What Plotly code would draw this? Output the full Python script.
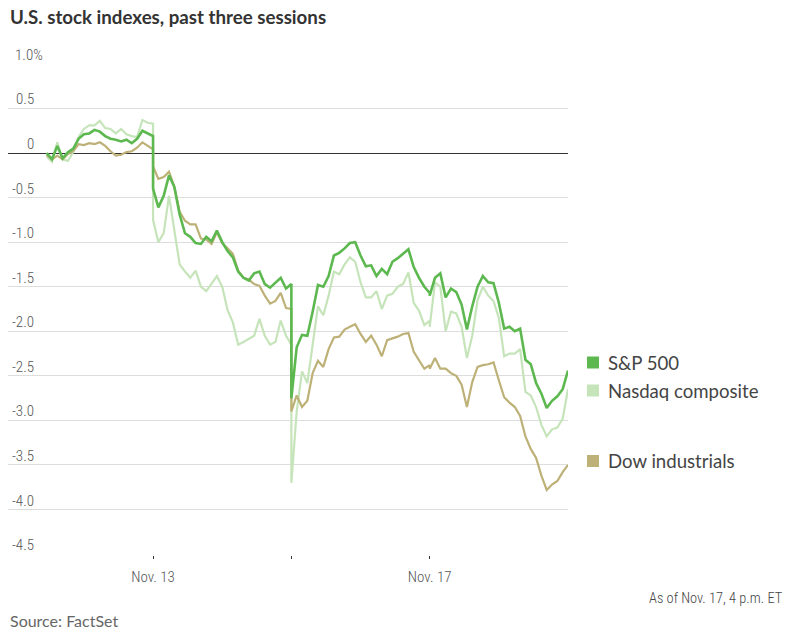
import plotly.graph_objects as go

# trading minutes, 0 = Nov. 13 open; each session 390 min; session boundaries repeated (close / next open)
minutes = (list(range(-300, 1, 15)) + list(range(0, 391, 15))
           + list(range(390, 781, 15)) + list(range(780, 1171, 15)))

sp500 = [0.00, -0.07, 0.08, -0.06, 0.01, 0.05, 0.16, 0.21, 0.22, 0.26, 0.24, 0.19, 0.16, 0.15, 0.13, 0.15, 0.11, 0.16, 0.25, 0.22, 0.19,
         -0.40, -0.61, -0.48, -0.25, -0.38, -0.69, -0.90, -0.94, -1.01, -1.02, -0.94, -0.99, -0.87, -1.00, -1.10, -1.17, -1.33, -1.40, -1.43, -1.35, -1.33, -1.47, -1.51, -1.45, -1.40, -1.52, -1.47,
         -2.75, -2.18, -2.04, -2.05, -1.78, -1.48, -1.50, -1.38, -1.15, -1.12, -1.07, -1.01, -1.00, -1.15, -1.27, -1.26, -1.38, -1.30, -1.36, -1.22, -1.18, -1.13, -1.08, -1.28, -1.40, -1.50, -1.57,
         -1.60, -1.40, -1.35, -1.62, -1.52, -1.56, -1.70, -1.98, -1.72, -1.50, -1.38, -1.45, -1.46, -1.68, -1.97, -1.95, -2.00, -1.97, -2.32, -2.37, -2.58, -2.70, -2.86, -2.78, -2.73, -2.65, -2.44]

nasdaq = [-0.04, -0.10, 0.12, -0.07, -0.09, 0.01, 0.18, 0.27, 0.31, 0.31, 0.36, 0.28, 0.27, 0.22, 0.27, 0.21, 0.19, 0.18, 0.37, 0.34, 0.33,
          -0.75, -1.00, -0.90, -0.48, -0.85, -1.25, -1.33, -1.40, -1.32, -1.50, -1.55, -1.47, -1.38, -1.50, -1.76, -1.90, -2.15, -2.12, -2.08, -2.05, -1.86, -2.05, -2.15, -2.12, -1.88, -2.05, -2.15,
          -3.70, -2.90, -2.45, -2.58, -2.15, -1.72, -1.82, -1.60, -1.33, -1.36, -1.25, -1.17, -1.22, -1.45, -1.62, -1.62, -1.55, -1.75, -1.60, -1.58, -1.50, -1.47, -1.34, -1.68, -1.77, -1.93, -1.88,
          -1.95, -1.45, -1.50, -2.00, -1.78, -1.80, -1.95, -2.30, -2.05, -1.65, -1.50, -1.60, -1.66, -1.85, -2.28, -2.25, -2.25, -2.20, -2.68, -2.72, -2.85, -3.05, -3.18, -3.10, -3.08, -2.98, -2.65]

dow = [-0.02, -0.07, -0.03, -0.07, -0.01, 0.02, 0.10, 0.09, 0.11, 0.10, 0.12, 0.08, 0.02, -0.03, -0.02, 0.01, 0.02, 0.06, 0.12, 0.08, 0.04,
       -0.15, -0.29, -0.27, -0.21, -0.38, -0.66, -0.76, -0.80, -0.80, -0.96, -0.97, -1.02, -0.89, -1.01, -1.07, -1.13, -1.32, -1.40, -1.42, -1.47, -1.49, -1.60, -1.69, -1.66, -1.57, -1.74, -1.75,
       -2.90, -2.72, -2.85, -2.78, -2.47, -2.33, -2.40, -2.20, -2.07, -2.06, -1.98, -1.95, -1.92, -2.03, -2.12, -2.05, -2.15, -2.28, -2.10, -2.08, -2.06, -2.03, -2.02, -2.23, -2.32, -2.42, -2.38,
       -2.42, -2.30, -2.42, -2.42, -2.47, -2.50, -2.60, -2.85, -2.57, -2.40, -2.38, -2.37, -2.35, -2.55, -2.74, -2.80, -2.85, -2.95, -3.18, -3.32, -3.42, -3.62, -3.78, -3.72, -3.68, -3.58, -3.50]

y_ticks = [1.0, 0.5, 0, -0.5, -1.0, -1.5, -2.0, -2.5, -3.0, -3.5, -4.0, -4.5]
y_tick_text = ["1.0%", "0.5", "0", "-0.5", "-1.0", "-1.5", "-2.0", "-2.5", "-3.0", "-3.5", "-4.0", "-4.5"]
x_ticks = [0, 390, 780]
x_tick_text = ["Nov. 13", "", "Nov. 17"]

series_names = ["S&P 500", "Nasdaq composite", "Dow industrials"]
series_colors = ["#5cb84f", "#c6e4ba", "#bdb178"]

NARROW = "Roboto Condensed, DejaVu Sans Condensed, Liberation Sans Narrow, Roboto, sans-serif"
MAIN = "Lato, Open Sans, sans-serif"

W, H = 806, 635
L, R, T, B = 8, 238, 63, 80
PH = H - T - B
PW = W - L - R


def px_to_paper_x(px):
    return (px - L) / PW


def py_to_paper_y(py):
    return (H - B - py) / PH


fig = go.Figure()
fig.add_trace(go.Scatter(x=minutes, y=nasdaq, mode="lines", name=series_names[1],
                         line=dict(color=series_colors[1], width=2.2)))
fig.add_trace(go.Scatter(x=minutes, y=dow, mode="lines", name=series_names[2],
                         line=dict(color=series_colors[2], width=2.2)))
fig.add_trace(go.Scatter(x=minutes, y=sp500, mode="lines", name=series_names[0],
                         line=dict(color=series_colors[0], width=2.6)))

tick_font = dict(family=NARROW, size=15, color="#555", weight=300)

annotations = []
# y tick labels sitting above the gridlines (right-aligned, the top one carries the % sign)
for v, t in zip(y_ticks, y_tick_text):
    if t.endswith("%"):
        annotations.append(dict(x=px_to_paper_x(13), xref="paper", y=v, yref="y", text=t,
                                xanchor="left", yanchor="middle", yshift=9, showarrow=False,
                                font=tick_font))
    else:
        annotations.append(dict(x=px_to_paper_x(36), xref="paper", y=v, yref="y", text=t,
                                xanchor="right", yanchor="middle", yshift=9, showarrow=False,
                                font=tick_font))

# legend on the right
legend_rows = [362.5, 390.5, 461]
shapes = []
for name, col, py in zip(series_names, series_colors, legend_rows):
    shapes.append(dict(type="rect", xref="paper", yref="paper",
                       x0=px_to_paper_x(587), x1=px_to_paper_x(599),
                       y0=py_to_paper_y(py + 6), y1=py_to_paper_y(py - 6),
                       fillcolor=col, line=dict(width=0)))
    annotations.append(dict(x=px_to_paper_x(606), xref="paper", y=py_to_paper_y(py), yref="paper",
                            text=name, xanchor="left", yanchor="middle", showarrow=False,
                            font=dict(family=MAIN, size=18.6, color="#444")))

annotations.append(dict(x=px_to_paper_x(8), xref="paper", y=py_to_paper_y(17), yref="paper",
                        text="<b>U.S. stock indexes, past three sessions</b>", xanchor="left",
                        yanchor="middle", showarrow=False,
                        font=dict(family=MAIN, size=18.7, color="#333")))
annotations.append(dict(x=px_to_paper_x(8), xref="paper", y=py_to_paper_y(620), yref="paper",
                        text="Source: FactSet", xanchor="left", yanchor="middle", showarrow=False,
                        font=dict(family=MAIN, size=16, color="#666")))
annotations.append(dict(x=px_to_paper_x(785), xref="paper", y=py_to_paper_y(598), yref="paper",
                        text="As of Nov. 17, 4 p.m. ET", xanchor="right", yanchor="middle",
                        showarrow=False, font=dict(family=NARROW, size=14.4, color="#444", weight=300)))

fig.update_layout(
    width=W, height=H,
    margin=dict(l=L, r=R, t=T, b=B, pad=0),
    plot_bgcolor="white", paper_bgcolor="white",
    showlegend=False,
    annotations=annotations,
    shapes=shapes,
    xaxis=dict(range=[-409, 1170], tickvals=x_ticks, ticktext=x_tick_text,
               showgrid=False, zeroline=False, showline=False,
               ticks="outside", ticklen=3, tickcolor="#333", tickwidth=1,
               tickfont=tick_font, ticklabelstandoff=5),
    yaxis=dict(range=[-4.51, 1.01], tickvals=y_ticks, showticklabels=False,
               showgrid=True, gridcolor="#dddddd", gridwidth=1,
               zeroline=True, zerolinecolor="#333", zerolinewidth=1.2, showline=False),
)

fig.write_html("out.html", config={"displayModeBar": False},
               post_script="document.body.style.margin='0';")
